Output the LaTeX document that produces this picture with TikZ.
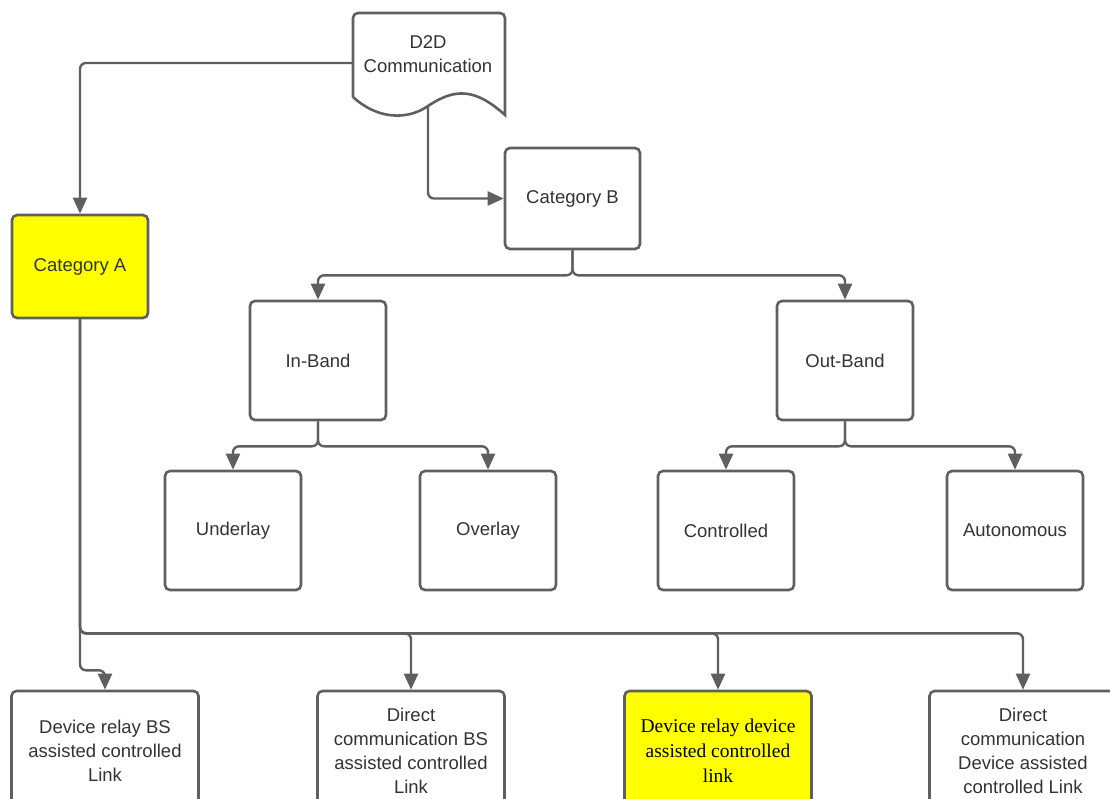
\documentclass[tikz,border=0pt]{standalone}
\usepackage{fontspec}
\setmainfont{Liberation Sans}
\newfontfamily\timesfont{Liberation Serif}
\usetikzlibrary{arrows.meta}
\definecolor{boxgray}{HTML}{5F5F5F}
\definecolor{textgray}{HTML}{333333}
\definecolor{catyellow}{HTML}{FFFF00}

\begin{document}
\begin{tikzpicture}[x=1pt,y=-1pt,
  box/.style={draw=boxgray,line width=2.6pt,rounded corners=5pt,fill=white,text=textgray,
    font=\fontsize{18.5}{24}\selectfont,align=center,inner sep=0pt},
  leaf/.style={box,minimum width=136pt,minimum height=119pt},
  linkbox/.style={box,minimum width=187pt,minimum height=120pt},
  link/.style={draw=boxgray,line width=2.4pt,rounded corners=6pt,-{Triangle[length=16pt,width=14pt]}}]
 \clip (0,0) rectangle (1110,798); %Bildrand

 % D2D Dokument
 \draw[boxgray,line width=2.6pt,fill=white] (353,97) [rounded corners=5pt] -- (353,13) -- (505,13)
   [sharp corners] -- (505,115) .. controls (475,88) and (455,88) .. (428,106)
   .. controls (408,120) and (378,120) .. (353,97);
 \node[text=textgray,font=\fontsize{18.5}{24}\selectfont,align=center] (d2d) at (428,54) {D2D\\Communication};
 \coordinate (d2dleft) at (353,63);
 \coordinate (d2dbot) at (428,106);

 \node[box,fill=catyellow,minimum width=136pt,minimum height=103pt] (catA) at (80,266.5) {Category A};
 \node[box,minimum width=135pt,minimum height=101pt] (catB) at (572.5,198.5) {Category B};

 \node[leaf] (inband) at (318,360.5) {In-Band};
 \node[leaf] (outband) at (845,360.5) {Out-Band};
 \node[leaf] (underlay) at (233,530.5) {Underlay};
 \node[leaf] (overlay) at (488,530.5) {Overlay};
 \node[leaf] (controlled) at (726,530.5) {Controlled};
 \node[leaf] (autonomous) at (1015,530.5) {Autonomous};

 \node[linkbox] (relaybs) at (105,751) {Device relay BS\\assisted controlled\\Link};
 \node[linkbox] (directbs) at (411,751) {Direct\\communication BS\\assisted controlled\\Link};
 \node[linkbox,fill=catyellow,text=black,font=\timesfont\fontsize{19.5}{25}\selectfont] (relaydev) at (718,751)
   {Device relay device\\assisted controlled\\link};
 \node[linkbox] (directdev) at (1023,751) {Direct\\communication\\Device assisted\\controlled Link};

 % Verbindungen
 \draw[link] (d2dleft) -| (catA.north);
 \draw[link] (d2dbot) |- (catB.west);
 \foreach \n in {inband,outband}
   \draw[link] (catB.south) -- ++(0,25) -| (\n.north);
 \foreach \n in {underlay,overlay}
   \draw[link] (inband.south) -- ++(0,25) -| (\n.north);
 \foreach \n in {controlled,autonomous}
   \draw[link] (outband.south) -- ++(0,25) -| (\n.north);
 \draw[link] (catA.south) -- ++(0,351) -| (relaybs.north);
 \foreach \n in {directbs,relaydev,directdev}
   \draw[link] (catA.south) -- ++(0,314) -| (\n.north);
\end{tikzpicture}
\end{document}
